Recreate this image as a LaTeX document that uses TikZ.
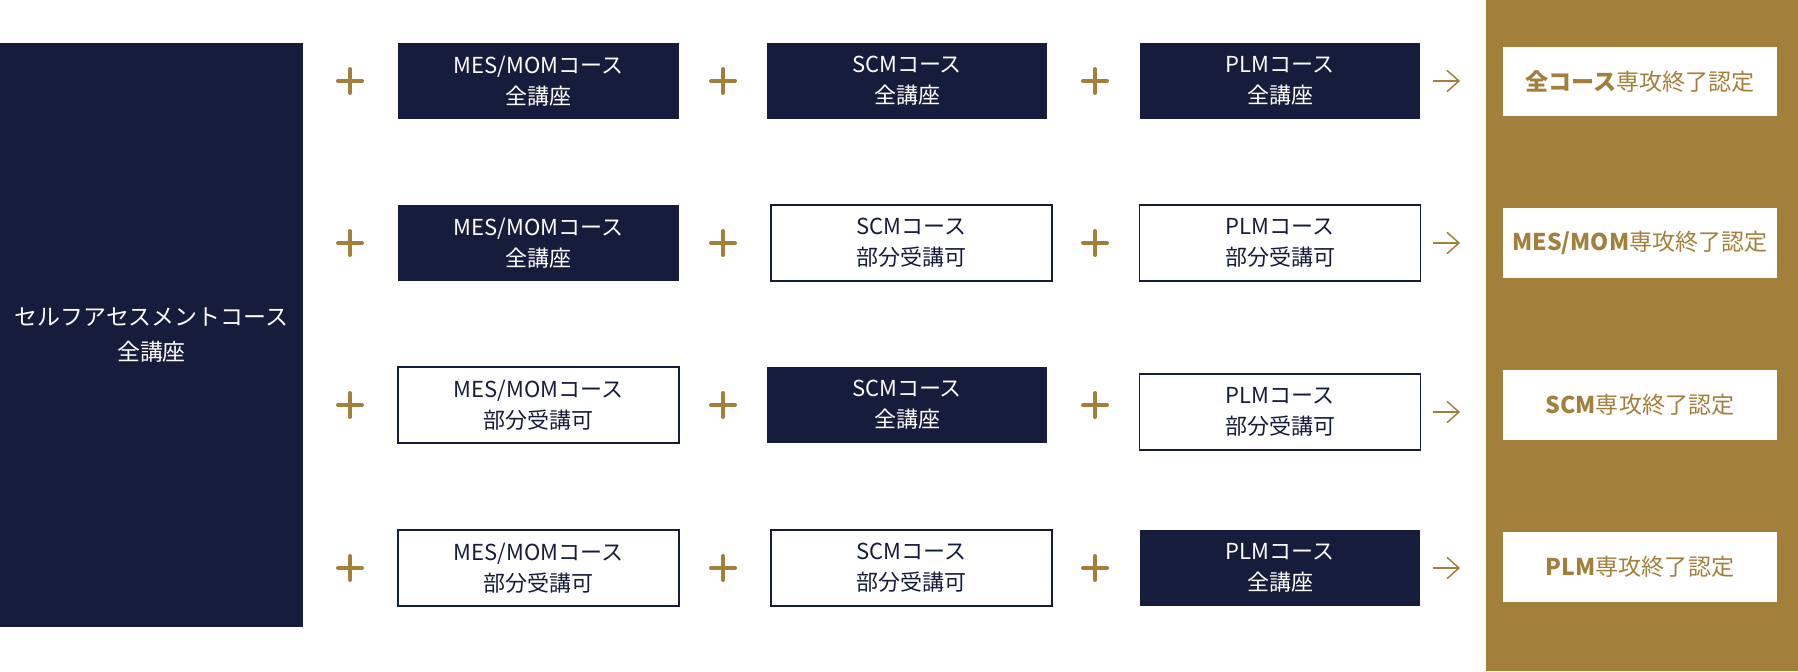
\documentclass[tikz,border=0pt]{standalone}
\usepackage{fontspec}
\setmainfont{Noto Sans CJK JP}
\usetikzlibrary{arrows.meta}
\definecolor{navy}{HTML}{161C3B}
\definecolor{gold}{HTML}{A27F3B}
\newcommand{\plusmark}[1]{\draw[plusline] (#1) ++(-12,0) -- ++(24,0) (#1) ++(0,-12) -- ++(0,24);}
\begin{document}
\begin{tikzpicture}[x=0.75pt, y=-0.75pt,
    every node/.style={font=\fontsize{16.5}{23.5}\selectfont, align=center, inner sep=0pt},
    full/.style={fill=navy, text=white, minimum width=210.5pt, minimum height=57pt},
    part/.style={draw=navy, line width=1.1pt, fill=white, text=navy, minimum width=210.5pt, minimum height=57pt},
    cert/.style={fill=white, text=gold, font=\fontsize{17.3}{22}\selectfont, minimum width=205.5pt, minimum height=52pt},
    plusline/.style={draw=gold, line width=3pt, line cap=round},
    arr/.style={draw=gold, line width=1.1pt, -{Straight Barb[length=9pt, width=16pt]}, shorten <=9pt, shorten >=32pt}]
    \useasboundingbox (0,0) rectangle (1798,671);
    \fill[gold] (1486,0) rectangle (1798,671);

    \node[fill=navy, text=white, font=\fontsize{17.2}{26.5}\selectfont, minimum width=227.25pt, minimum height=438pt] (self) at (151.5,335) {セルフアセスメントコース\\全講座};

    \node[full] (m1) at (538.5,81)  {MES/MOMコース\\全講座};
    \node[full] (s1) at (907,81)    {SCMコース\\全講座};
    \node[full] (p1) at (1280,81)   {PLMコース\\全講座};
    \node[cert] (r1) at (1640,81.5) {\textbf{全コース}専攻終了認定};

    \node[full] (m2) at (538.5,243) {MES/MOMコース\\全講座};
    \node[part] (s2) at (911.5,243) {SCMコース\\部分受講可};
    \node[part] (p2) at (1280,243)  {PLMコース\\部分受講可};
    \node[cert] (r2) at (1640,243)  {\textbf{MES/MOM}専攻終了認定};

    \node[part] (m3) at (538.5,405) {MES/MOMコース\\部分受講可};
    \node[full] (s3) at (907,405)   {SCMコース\\全講座};
    \node[part] (p3) at (1280,412)  {PLMコース\\部分受講可};
    \node[cert] (r3) at (1640,405)  {\textbf{SCM}専攻終了認定};

    \node[part] (m4) at (538.5,568) {MES/MOMコース\\部分受講可};
    \node[part] (s4) at (911.5,568) {SCMコース\\部分受講可};
    \node[full] (p4) at (1280,568)  {PLMコース\\全講座};
    \node[cert] (r4) at (1640,567)  {\textbf{PLM}専攻終了認定};

    % plus marks between the courses
    \plusmark{350,81}  \plusmark{723,81}  \plusmark{1095,81}
    \plusmark{350,243} \plusmark{723,243} \plusmark{1095,243}
    \plusmark{350,405} \plusmark{723,405} \plusmark{1095,405}
    \plusmark{350,568} \plusmark{723,568} \plusmark{1095,568}

    \draw[arr] (p1.east) -- (p1.east -| r1.west);
    \draw[arr] (p2.east) -- (p2.east -| r2.west);
    \draw[arr] (p3.east) -- (p3.east -| r3.west);
    \draw[arr] (p4.east) -- (p4.east -| r4.west);
\end{tikzpicture}
\end{document}
